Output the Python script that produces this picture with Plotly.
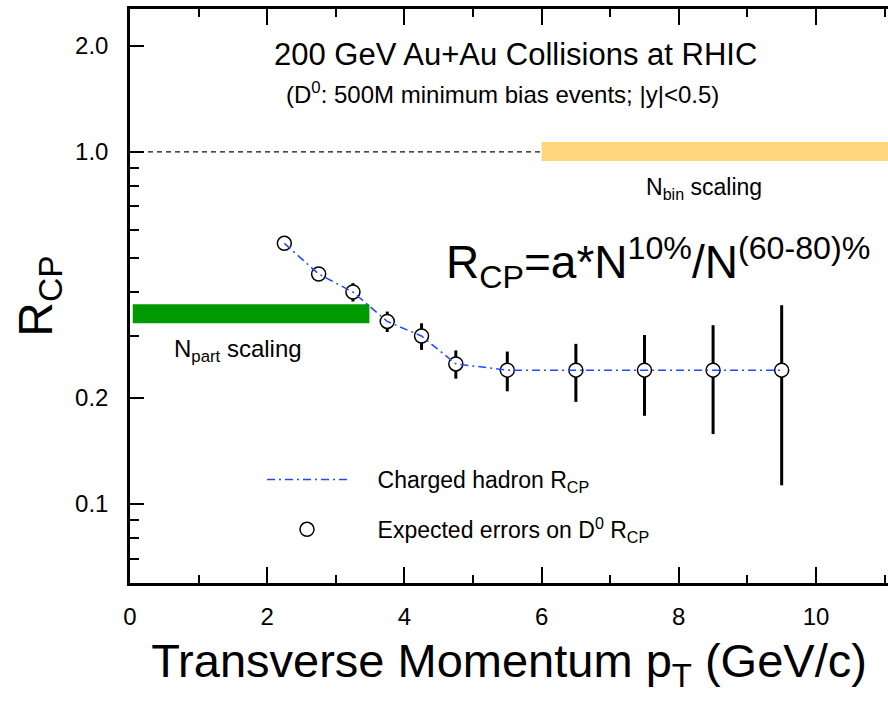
import plotly.graph_objects as go

# ---- data ----
pt = [2.25, 2.75, 3.25, 3.75, 4.25, 4.75, 5.5, 6.5, 7.5, 8.5, 9.5]
d0_rcp = [0.55, 0.45, 0.40, 0.33, 0.30, 0.25, 0.24, 0.24, 0.24, 0.24, 0.24]
d0_err = [0.015, 0.020, 0.024, 0.022, 0.026, 0.023, 0.031, 0.045, 0.062, 0.082, 0.127]
hadron_rcp = [0.55, 0.45, 0.40, 0.33, 0.30, 0.25, 0.24, 0.24, 0.24, 0.24, 0.24]

nbin_x = [6.0, 11.3]
nbin_y = [0.943, 1.068]
npart_x = [0.04, 3.49]
npart_y = [0.326, 0.369]
unity_x = [0.0, 6.0]
unity_y = [1.0, 1.0]

y_tickvals = [0.1, 0.2, 1.0, 2.0]
y_ticktext = ["0.1", "0.2", "1.0", "2.0"]
y_minor = [0.07, 0.08, 0.09, 0.3, 0.4, 0.5, 0.6, 0.7, 0.8, 0.9]

FONT = "Arial"
PAD = "\u00a0\u00a0\u00a0\u00a0"

fig = go.Figure()

# N_bin scaling band
fig.add_trace(go.Scatter(
    x=[nbin_x[0], nbin_x[1], nbin_x[1], nbin_x[0], nbin_x[0]],
    y=[nbin_y[0], nbin_y[0], nbin_y[1], nbin_y[1], nbin_y[0]],
    fill="toself", fillcolor="#FFD47E", line=dict(width=0),
    mode="lines", showlegend=False, hoverinfo="skip"))
# N_part scaling band
fig.add_trace(go.Scatter(
    x=[npart_x[0], npart_x[1], npart_x[1], npart_x[0], npart_x[0]],
    y=[npart_y[0], npart_y[0], npart_y[1], npart_y[1], npart_y[0]],
    fill="toself", fillcolor="#009A00", line=dict(width=0),
    mode="lines", showlegend=False, hoverinfo="skip"))
# unity dashed line
fig.add_trace(go.Scatter(
    x=unity_x, y=unity_y, mode="lines",
    line=dict(color="#111111", width=1.2, dash="5px,4px"),
    showlegend=False, hoverinfo="skip"))

# D0 expected errors
fig.add_trace(go.Scatter(
    x=pt, y=d0_rcp, mode="markers",
    name=PAD + "Expected errors on D<sup>0</sup> R<sub>CP</sub>",
    legendgroup="d0",
    marker=dict(symbol="circle", size=14, color="white",
                line=dict(color="black", width=1.5)),
    error_y=dict(type="data", array=d0_err, visible=True,
                 color="black", thickness=3, width=0),
    legendrank=2))
# charged hadron line
fig.add_trace(go.Scatter(
    x=pt, y=hadron_rcp, mode="lines",
    name=PAD + "Charged hadron R<sub>CP</sub>",
    legendgroup="hadron",
    line=dict(color="#2646FF", width=1.5, dash="8px,4px,2px,4px"),
    legendrank=1))

ann_font = dict(family=FONT, color="black")
annotations = [
    dict(text="200 GeV Au+Au Collisions at RHIC", x=515, y=54,
         font=dict(size=31, **ann_font)),
    dict(text="(D<sup>0</sup>: 500M minimum bias events; |y|<0.5)", x=502, y=93,
         font=dict(size=24, **ann_font)),
    dict(text="N<sub>bin</sub> scaling", x=704, y=188,
         font=dict(size=23, **ann_font)),
    dict(text="N<sub>part</sub> scaling", x=238, y=350,
         font=dict(size=24, **ann_font)),
    dict(text="R<sub>CP</sub>=a*N<sup>10%</sup>/N<sup>(60-80)%</sup>", x=658, y=262,
         font=dict(size=46, **ann_font)),
]
W, H = 888, 701
L, R, T, B = 130, 0, 9, 118
pw, ph = W - L - R, H - T - B
layout_ann = []
for a in annotations:
    layout_ann.append(dict(
        text=a["text"], font=a["font"], showarrow=False,
        xref="paper", yref="paper",
        x=(a["x"] - L) / pw, y=1 - (a["y"] - T) / ph,
        xanchor="center", yanchor="middle"))

fig.update_layout(
    width=W, height=H,
    margin=dict(l=L, r=R, t=T, b=B, pad=0),
    paper_bgcolor="white", plot_bgcolor="white",
    font=dict(family=FONT, color="black"),
    annotations=layout_ann,
    showlegend=True,
    legend=dict(x=(262 - L) / pw, y=1 - (458 - T) / ph,
                xanchor="left", yanchor="top",
                font=dict(family=FONT, size=23, color="black"),
                bgcolor="rgba(0,0,0,0)", itemwidth=80,
                tracegroupgap=17),
    xaxis=dict(
        range=[0, 11.05], dtick=2, tick0=0,
        ticks="inside", ticklen=16, tickwidth=1.5, tickcolor="black",
        showline=True, linecolor="black", linewidth=2.5, mirror="allticks",
        showgrid=False, zeroline=False,
        tickfont=dict(family=FONT, size=24, color="black"),
        ticklabelstandoff=10,
        minor=dict(dtick=1, tick0=0, ticks="inside", ticklen=8,
                   tickwidth=1.5, tickcolor="black", showgrid=False),
        title=dict(text="Transverse Momentum p<sub>T</sub> (GeV/c)",
                   font=dict(family=FONT, size=47, color="black"),
                   standoff=16),
    ),
    yaxis=dict(
        type="log", range=[-1.2244, 0.406],
        tickvals=y_tickvals, ticktext=y_ticktext,
        ticks="inside", ticklen=14, tickwidth=1.5, tickcolor="black",
        showline=True, linecolor="black", linewidth=2.5, mirror=False,
        showgrid=False, zeroline=False,
        tickfont=dict(family=FONT, size=24, color="black"),
        ticklabelstandoff=14,
        minor=dict(tickvals=y_minor, ticks="inside", ticklen=9,
                   tickwidth=1.5, tickcolor="black", showgrid=False),
        title=dict(text="R<sub>CP</sub>",
                   font=dict(family=FONT, size=48, color="black"),
                   standoff=8),
    ),
)

fig.write_html("out.html")
